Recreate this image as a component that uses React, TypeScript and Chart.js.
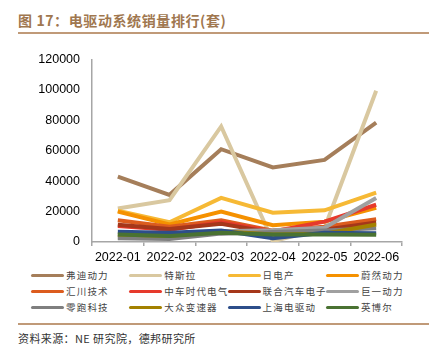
import React, { useEffect, useRef } from "react";
import { Chart, registerables } from "chart.js";

Chart.register(...registerables);

const months = ["2022-01", "2022-02", "2022-03", "2022-04", "2022-05", "2022-06"];
const yMin = 0;
const yMax = 120000;
const yStep = 20000;

const fudi = [43000, 31000, 61000, 49000, 54000, 78500];
const tesla = [22000, 27500, 76000, 500, 9000, 99500];
const nidec = [20500, 13000, 29000, 19300, 20800, 32500];
const weiran = [20000, 11500, 20000, 11000, 13400, 22500];
const huichuan = [14300, 10000, 14300, 7500, 10000, 15000];
const crrc = [10500, 8000, 13000, 7000, 13400, 24500];
const uaes = [11400, 8500, 12000, 6100, 8000, 12800];
const jee = [3000, 3000, 7000, 7700, 9400, 29000];
const leap = [2500, 2000, 5500, 6500, 7500, 9000];
const vwgear = [5000, 4000, 7000, 5000, 5500, 11500];
const shedrive = [6800, 6100, 7500, 2400, 6100, 5700];
const enpower = [5000, 3900, 6100, 5000, 5000, 4800];

const seriesNames = [
  "弗迪动力", "特斯拉", "日电产", "蔚然动力",
  "汇川技术", "中车时代电气", "联合汽车电子", "巨一动力",
  "零跑科技", "大众变速器", "上海电驱动", "英博尔",
];
const seriesValues = [fudi, tesla, nidec, weiran, huichuan, crrc, uaes, jee, leap, vwgear, shedrive, enpower];
const seriesColors = [
  "#A57E5A", "#D9C8A0", "#F6B935", "#F59100",
  "#DC5C1E", "#E63A2C", "#A5371A", "#A0A0A0",
  "#7F7F7F", "#A38100", "#2D4E8A", "#4A7232",
];

const TITLE = "图 17：电驱动系统销量排行(套)";
const SOURCE = "资料来源：NE 研究院，德邦研究所";

export default function App() {
  const ref = useRef<HTMLCanvasElement | null>(null);

  useEffect(() => {
    if (!ref.current) return;
    const chart = new Chart(ref.current, {
      type: "line",
      data: {
        labels: months,
        datasets: seriesNames.map((name, i) => ({
          label: name,
          data: seriesValues[i],
          borderColor: seriesColors[i],
          backgroundColor: seriesColors[i],
          borderWidth: 4,
          pointRadius: 0,
          tension: 0,
          fill: false,
          order: -i,
        })),
      },
      options: {
        animation: false,
        responsive: false,
        devicePixelRatio: 1,
        layout: { padding: { left: 0, right: 36, top: 19, bottom: 4 } },
        plugins: { legend: { display: false }, tooltip: { enabled: false } },
        scales: {
          x: {
            offset: true,
            grid: {
              offset: true,
              drawOnChartArea: false,
              drawTicks: true,
              tickLength: 4,
              color: "#A6A6A6",
              lineWidth: 1.5,
            },
            border: { color: "#A6A6A6", width: 1.5 },
            ticks: {
              color: "#000",
              font: { family: "'Liberation Sans', Arial, sans-serif", size: 12.5 },
              padding: 4,
              maxRotation: 0,
              autoSkip: false,
            },
            afterFit: (s: any) => { s.height = 22; },
          },
          y: {
            min: yMin,
            max: yMax,
            grid: { display: true, drawOnChartArea: false, drawTicks: false },
            border: { color: "#A6A6A6", width: 1.5 },
            ticks: {
              stepSize: yStep,
              color: "#000",
              padding: 12,
              font: { family: "'Liberation Sans', Arial, sans-serif", size: 12.5 },
              callback: (v: any) => String(v),
            },
            afterFit: (s: any) => { s.width = 92; },
          },
        },
      },
    });
    return () => chart.destroy();
  }, []);

  return (
    <div style={{ position: "absolute", left: 0, top: 0, width: 438, height: 353, background: "#fff", overflow: "hidden" }}>
      <div style={{
        position: "absolute", left: 18, top: 10, fontFamily: "'Noto Sans CJK SC', sans-serif",
        fontWeight: 700, fontSize: 14, letterSpacing: 0.6, color: "#A0774F", whiteSpace: "nowrap", lineHeight: "20px",
      }}>{TITLE}</div>
      <div style={{ position: "absolute", left: 18, top: 32, width: 411, height: 2, background: "#C09A78" }} />
      <canvas ref={ref} width={438} height={228} style={{ position: "absolute", left: 0, top: 40, width: 438, height: 228 }} />
      {seriesNames.map((name, i) => {
        const col = i % 4;
        const row = Math.floor(i / 4);
        return (
          <div key={name} style={{ position: "absolute", left: 31 + col * 98.3, top: 268 + row * 16, height: 14, display: "flex", alignItems: "center", whiteSpace: "nowrap" }}>
            <div style={{ width: 33, height: 3, borderRadius: 1.5, background: seriesColors[i] }} />
            <span style={{ marginLeft: 2, fontFamily: "'Noto Sans CJK SC', sans-serif", fontSize: 9.5, letterSpacing: 1.2, color: "#444" }}>{name}</span>
          </div>
        );
      })}
      <div style={{ position: "absolute", left: 18, top: 323, width: 411, height: 2, background: "#C09A78" }} />
      <div style={{
        position: "absolute", left: 18, top: 330, fontFamily: "'Noto Sans CJK SC', sans-serif",
        fontSize: 11, letterSpacing: 0.4, color: "#333", whiteSpace: "nowrap", lineHeight: "16px",
      }}>{SOURCE}</div>
    </div>
  );
}
